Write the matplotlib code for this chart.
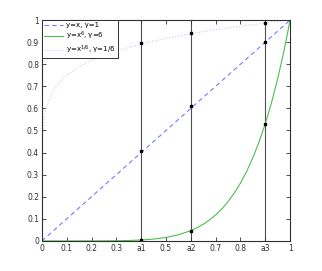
import numpy as np
import matplotlib
matplotlib.use("Agg")
import matplotlib.pyplot as plt

# curves
x_lin = [0, 1]
y_lin = [0, 1]

x_pow = [0, 0.05, 0.1, 0.15, 0.2, 0.25, 0.3, 0.35, 0.4, 0.45, 0.5, 0.55, 0.6,
         0.625, 0.65, 0.675, 0.7, 0.725, 0.75, 0.775, 0.8, 0.825, 0.85, 0.875,
         0.9, 0.925, 0.95, 0.975, 1]
y_pow = [0, 0, 0, 0, 0.0001, 0.0002, 0.0007, 0.0018, 0.0041, 0.0083, 0.0156,
         0.0277, 0.0467, 0.0596, 0.0754, 0.0947, 0.1176, 0.145, 0.178, 0.217,
         0.262, 0.315, 0.377, 0.449, 0.531, 0.626, 0.735, 0.859, 1]

x_root = [0, 0.0002, 0.001, 0.003, 0.005, 0.01, 0.02, 0.035, 0.05, 0.075, 0.1,
          0.15, 0.2, 0.3, 0.4, 0.5, 0.6, 0.7, 0.8, 0.9, 1]
y_root = [0, 0.345, 0.422, 0.483, 0.516, 0.562, 0.613, 0.658, 0.688, 0.724,
          0.75, 0.789, 0.818, 0.86, 0.892, 0.917, 0.938, 0.956, 0.972, 0.987, 1]

marks_x = [0.4, 0.6, 0.9]
marks_lin = [0.405, 0.61, 0.9]
marks_pow = [0.006, 0.047, 0.531]
marks_root = [0.895, 0.94, 0.988]

xticks = [0, 0.1, 0.2, 0.3, 0.4, 0.5, 0.6, 0.7, 0.8, 0.9, 1]
xlabels = ['0', '0.1', '0.2', '0.3', 'a1', '0.5', 'a2', '0.7', '0.8', 'a3', '1']
yticks = [0, 0.1, 0.2, 0.3, 0.4, 0.5, 0.6, 0.7, 0.8, 0.9, 1]
ylabels = ['0', '0.1', '0.2', '0.3', '0.4', '0.5', '0.6', '0.7', '0.8', '0.9', '1']

fig = plt.figure(figsize=(3.22, 2.71), dpi=100)
ax = fig.add_axes([0.130, 0.111, 0.771, 0.815])

ax.plot(x_lin, y_lin, '--', color='#6f7fff', lw=0.8, dashes=(4, 3), label='y=x, γ=1')
ax.plot(x_pow, y_pow, '-', color='#4cbf4c', lw=0.8, label='y=x$^6$, γ=6')
ax.plot(x_root, y_root, ':', color='#e4c0f6', lw=0.8, label='y=x$^{1/6}$, γ=1/6')

for xv in marks_x:
    ax.plot([xv, xv], [0, 1], '-', color='#505050', lw=0.8, zorder=1)
ax.plot(marks_x, marks_lin, 's', color='black', ms=2)
ax.plot(marks_x, marks_pow, 's', color='black', ms=2)
ax.plot(marks_x, marks_root, 's', color='black', ms=2)

ax.set_xlim(0, 1)
ax.set_ylim(0, 1)
ax.set_xticks(xticks)
ax.set_xticklabels(xlabels)
ax.set_yticks(yticks)
ax.set_yticklabels(ylabels)
ax.tick_params(direction='in', top=True, right=True, labelsize=5.5, length=3,
               width=0.6, colors='#303030', pad=2)
for s in ax.spines.values():
    s.set_color('#303030')
    s.set_linewidth(0.8)

leg = ax.legend(loc='upper left', fontsize=5, frameon=True, fancybox=False,
                borderaxespad=0, handlelength=2.8, labelspacing=0.25,
                borderpad=0.3, handletextpad=0.4)
leg.get_frame().set_edgecolor('#303030')
leg.get_frame().set_linewidth(0.7)
leg.get_frame().set_alpha(1)

fig.savefig('out.png', dpi=100)
